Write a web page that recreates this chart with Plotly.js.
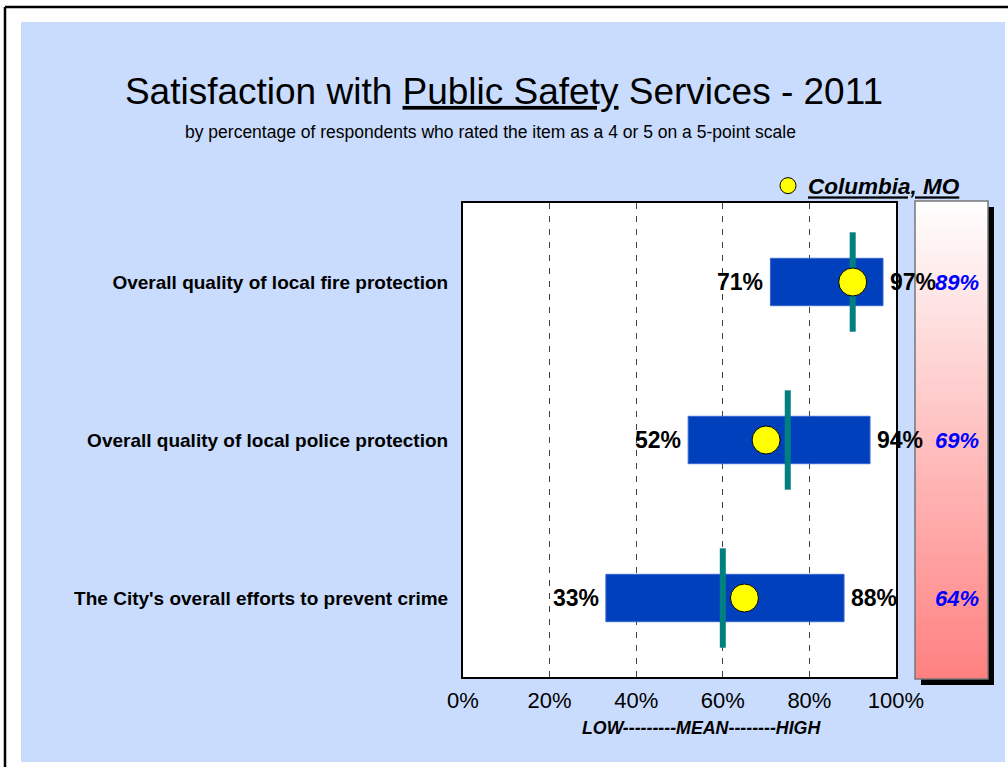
<!DOCTYPE html>
<html>
<head>
<meta charset="utf-8">
<script src="https://cdn.plot.ly/plotly-3.0.1.min.js"></script>
<style>html,body{margin:0;padding:0;background:#fff;}#chart{width:1008px;height:767px;}</style>
</head>
<body>
<div id="chart"></div>
<script>
// ---- data ----
const categories = [
  "Overall quality of local fire protection",
  "Overall quality of local police protection",
  "The City's overall efforts to prevent crime"
];
const lowValues = [71, 52, 33];
const highValues = [97, 94, 88];
const meanValues = [90, 75, 60];
const columbiaValues = [90, 70, 65];
const columbiaLabels = ["89%", "69%", "64%"];
const tickValues = [0, 20, 40, 60, 80, 100];
const tickLabels = ["0%", "20%", "40%", "60%", "80%", "100%"];

// ---- layout helpers (pixel -> paper) ----
const W = 1008, H = 767;
const px = v => v / W;
const py = v => 1 - v / H;
const FONT = "Arial, 'Liberation Sans', sans-serif";

const traces = [
  {
    type: 'bar', orientation: 'h',
    y: categories, base: lowValues,
    x: highValues.map((h, i) => h - lowValues[i]),
    width: 0.3,
    marker: {color: '#0040BD', line: {color: '#3A66D0', width: 1}},
    showlegend: false, hoverinfo: 'skip'
  },
  {
    type: 'scatter', mode: 'markers',
    x: meanValues, y: categories,
    marker: {symbol: 'line-ns', size: 71, line: {color: '#008080', width: 6}},
    showlegend: false, hoverinfo: 'skip'
  },
  {
    type: 'scatter', mode: 'markers',
    x: columbiaValues, y: categories,
    name: '<b><i><u>Columbia, MO</u></i></b>',
    marker: {color: '#FFFF00', size: 28, line: {color: '#000', width: 1}},
    showlegend: true, hoverinfo: 'skip'
  },
  {
    type: 'heatmap', xaxis: 'x2', yaxis: 'y2',
    x: [0, 1], y: [0, 1], z: [[0, 0], [1, 1]],
    zmin: 0, zmax: 1, zsmooth: 'best',
    colorscale: [[0, '#FF8080'], [1, '#FFFFFF']],
    showscale: false, hoverinfo: 'skip'
  }
];

const labelFont = {family: FONT, size: 23, color: '#000'};
const annotations = [];
categories.forEach((c, i) => {
  annotations.push({
    xref: 'x', yref: 'y', x: lowValues[i], y: c,
    text: '<b>' + lowValues[i] + '%</b>',
    showarrow: false, xanchor: 'right', yanchor: 'middle', xshift: -5,
    font: labelFont
  });
  annotations.push({
    xref: 'x', yref: 'y', x: highValues[i], y: c,
    text: '<b>' + highValues[i] + '%</b>',
    showarrow: false, xanchor: 'left', yanchor: 'middle', xshift: 5,
    font: labelFont
  });
  annotations.push({
    xref: 'paper', yref: 'y', x: px(957), y: c,
    text: '<b><i>' + columbiaLabels[i] + '</i></b>',
    showarrow: false, xanchor: 'center', yanchor: 'middle',
    font: {family: FONT, size: 22, color: '#0000FF'}
  });
});
annotations.push({
  xref: 'paper', yref: 'paper', x: px(490), y: py(132),
  text: 'by percentage of respondents who rated the item as a 4 or 5 on a 5-point scale',
  showarrow: false, xanchor: 'center', yanchor: 'middle',
  font: {family: FONT, size: 17.5, color: '#000'}
});
annotations.push({
  xref: 'paper', yref: 'paper', x: px(701), y: py(728),
  text: '<b><i>LOW---------MEAN--------HIGH</i></b>',
  showarrow: false, xanchor: 'center', yanchor: 'middle',
  font: {family: FONT, size: 17.8, color: '#000'}
});

const shapes = [
  {type: 'rect', xref: 'paper', yref: 'paper', layer: 'below',
   x0: px(21), x1: px(1005), y0: py(762), y1: py(22),
   fillcolor: '#C9DCFD', line: {width: 0}},
  {type: 'line', xref: 'paper', yref: 'paper', layer: 'below',
   x0: px(5), x1: 1, y0: py(7), y1: py(7), line: {color: '#000', width: 2.5}},
  {type: 'line', xref: 'paper', yref: 'paper', layer: 'below',
   x0: px(5), x1: px(5), y0: py(7), y1: 0, line: {color: '#000', width: 2.5}},
  {type: 'rect', xref: 'paper', yref: 'paper', layer: 'below',
   x0: px(463), x1: px(896), y0: py(677), y1: py(203),
   fillcolor: '#FFFFFF', line: {width: 0}},
  {type: 'rect', xref: 'paper', yref: 'paper', layer: 'below',
   x0: px(921), x1: px(994), y0: py(685), y1: py(207),
   fillcolor: '#000000', line: {width: 0}},
  {type: 'rect', xref: 'paper', yref: 'paper', layer: 'above',
   x0: px(915), x1: px(988), y0: py(679), y1: py(201),
   fillcolor: 'rgba(0,0,0,0)', line: {color: '#777777', width: 1.5}}
];

const layout = {
  width: W, height: H,
  margin: {l: 0, r: 0, t: 0, b: 0},
  paper_bgcolor: '#FFFFFF',
  plot_bgcolor: 'rgba(0,0,0,0)',
  font: {family: FONT, color: '#000'},
  title: {
    text: 'Satisfaction with <u>Public Safety</u> Services - 2011',
    font: {family: FONT, size: 37, color: '#000'},
    x: px(504), xref: 'paper', xanchor: 'center',
    y: py(91), yref: 'paper', yanchor: 'middle'
  },
  xaxis: {
    domain: [px(463), px(896)], range: [0, 100],
    tickvals: tickValues, ticktext: tickLabels,
    tickfont: {family: FONT, size: 22, color: '#000'},
    ticks: '', ticklabelstandoff: 3,
    showgrid: true, gridcolor: '#404040', gridwidth: 1, griddash: '6px,7px',
    zeroline: false, showline: true, mirror: true, linecolor: '#000', linewidth: 2,
    fixedrange: true
  },
  yaxis: {
    domain: [py(677), py(203)],
    type: 'category', categoryorder: 'array', categoryarray: categories,
    range: [2.5, -0.5],
    tickfont: {family: FONT, size: 19, color: '#000', weight: 'bold'},
    ticks: '', ticklabelstandoff: 9,
    showgrid: false, zeroline: false, showline: true, mirror: true,
    linecolor: '#000', linewidth: 2, fixedrange: true
  },
  xaxis2: {domain: [px(915), px(988)], anchor: 'y2', range: [0, 1], visible: false, fixedrange: true},
  yaxis2: {domain: [py(679), py(201)], anchor: 'x2', range: [0, 1], visible: false, fixedrange: true},
  legend: {
    x: px(768), xanchor: 'left', y: py(186), yanchor: 'middle',
    bgcolor: 'rgba(0,0,0,0)', borderwidth: 0,
    font: {family: FONT, size: 22.5, color: '#000'}
  },
  showlegend: true,
  shapes: shapes,
  annotations: annotations
};

Plotly.newPlot('chart', traces, layout, {displayModeBar: false, staticPlot: true});
</script>
</body>
</html>
